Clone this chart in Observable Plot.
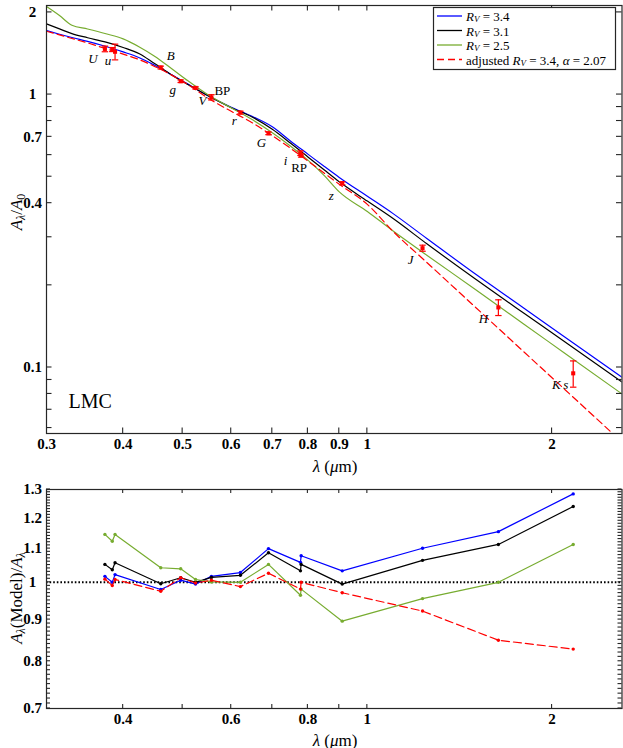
<!DOCTYPE html>
<html>
<head>
<meta charset="utf-8">
<script src="https://cdn.jsdelivr.net/npm/d3@7"></script>
<script src="https://cdn.jsdelivr.net/npm/@observablehq/plot@0.6"></script>
<style>
  html, body { margin: 0; padding: 0; background: #fff; }
  #wrap { position: relative; width: 623px; height: 748px; background: #fff; }
  #wrap svg { display: block; overflow: visible; }
</style>
</head>
<body>
<div id="wrap"></div>
<script>
// ---------------- data ----------------
const curveLambda = [0.30, 0.315, 0.33, 0.35, 0.375, 0.40, 0.425, 0.45, 0.48, 0.51, 0.55, 0.60, 0.65, 0.70, 0.75, 0.80, 0.85, 0.90, 1.00, 1.10, 1.25, 1.50, 1.80, 2.10, 2.60];
const curveRv34 = [1.716, 1.664, 1.618, 1.566, 1.500, 1.433, 1.365, 1.281, 1.181, 1.092, 0.990, 0.899, 0.831, 0.762, 0.675, 0.605, 0.546, 0.497, 0.424, 0.367, 0.297, 0.220, 0.165, 0.129, 0.0921];
const curveRv31 = [1.815, 1.741, 1.672, 1.615, 1.556, 1.488, 1.412, 1.299, 1.180, 1.088, 0.990, 0.895, 0.826, 0.746, 0.663, 0.591, 0.530, 0.479, 0.407, 0.352, 0.284, 0.211, 0.158, 0.124, 0.0884];
const curveRv25 = [2.100, 1.947, 1.795, 1.739, 1.670, 1.600, 1.495, 1.383, 1.244, 1.123, 0.998, 0.894, 0.808, 0.725, 0.647, 0.575, 0.506, 0.440, 0.373, 0.317, 0.258, 0.193, 0.144, 0.1126, 0.080];
const curveAdj  = [1.706, 1.654, 1.605, 1.546, 1.472, 1.407, 1.342, 1.268, 1.178, 1.088, 0.970, 0.868, 0.787, 0.707, 0.635, 0.571, 0.516, 0.469, 0.396, 0.316, 0.2426, 0.1663, 0.114, 0.0829, 0.0533];

const bandLambda = [0.3735, 0.384, 0.388, 0.4606, 0.4964, 0.5248, 0.557, 0.621, 0.69, 0.778, 0.780, 0.910, 1.230, 1.635, 2.165];
const obsRatio   = [1.470, 1.462, 1.435, 1.256, 1.119, 1.058, 0.977, 0.859, 0.721, 0.610, 0.598, 0.473, 0.2736, 0.166, 0.0952];
const obsError   = [0.035, 0.025, 0.095, 0.015, 0.012, 0.010, 0.022, 0.010, 0.008, 0.012, 0.008, 0.006, 0.007, 0.011, 0.0105];

const resRv34 = [1.017, 1.000, 1.022, 0.980, 1.006, 0.995, 1.017, 1.028, 1.100, 1.058, 1.078, 1.033, 1.101, 1.154, 1.284];
const resRv31 = [1.052, 1.036, 1.057, 0.996, 1.013, 1.000, 1.014, 1.020, 1.087, 1.033, 1.052, 0.995, 1.064, 1.113, 1.239];
const resRv25 = [1.145, 1.123, 1.145, 1.042, 1.039, 1.008, 1.001, 1.000, 1.052, 0.964, 0.981, 0.896, 0.955, 1.000, 1.113];
const resAdj  = [1.009, 0.991, 1.008, 0.975, 1.013, 0.998, 1.006, 0.988, 1.026, 0.981, 1.000, 0.971, 0.922, 0.849, 0.828];

const bandLabels     = ["U", "u", "B", "g", "V", "BP", "r", "G", "i", "RP", "z", "J", "H", "K\u2009s"];
const bandLabelIndex = [0, 2, 3, 4, 6, 6, 7, 8, 9, 10, 11, 12, 13, 14];
const bandLabelItalic = [true, true, true, true, true, false, true, true, true, false, true, true, true, true];

const xTicksTop = [0.3, 0.4, 0.5, 0.6, 0.7, 0.8, 0.9, 1, 2];
const xTicksBottom = [0.4, 0.6, 0.8, 1, 2];
const xTickMarks = [0.4, 0.5, 0.6, 0.7, 0.8, 0.9, 1, 2];
const yTicksTop = [0.1, 0.4, 0.7, 1, 2];
const yTickMarksTop = [0.06, 0.07, 0.08, 0.09, 0.1, 0.2, 0.3, 0.4, 0.5, 0.6, 0.7, 0.8, 0.9, 1, 2];
const yTicksBottom = [0.7, 0.8, 0.9, 1, 1.1, 1.2, 1.3];
const yTickMarksBottom = d3.range(70, 131).map(d => d / 100);

const legendLabels = ["3.4", "3.1", "2.5"];

// ---------------- layout / style ----------------
const W = 623;
const SERIF = "'Liberation Serif', 'Times New Roman', 'DejaVu Serif', serif";
const BLUE = "#0000ff", BLACK = "#000000", GREEN = "#77ac30", RED = "#ff0000", AXIS = "#262626";
const labelOffsets = [[-12, 10], [-7, 9], [10, -12], [-8, 9], [-9, 4], [11, -6], [-6, 8], [-7, 9], [-15, 8], [-2, 12], [-11, 13], [-12, 12], [-15, 11], [-13, 12]];
const xDomain = [0.3, 2.6];
const yDomainTop = [0.0573, 2.12];
const yDomainBottom = [0.7, 1.3];

const capSymbol = {
  draw(context, size) {
    const w = Math.sqrt(size / Math.PI);
    context.moveTo(-w, 0);
    context.lineTo(w, 0);
  }
};

const curveRows = vals => curveLambda.map((l, i) => ({l, v: vals[i]}));
const resRows = vals => bandLambda.map((l, i) => ({l, v: vals[i]}));
const obsRows = bandLambda.map((l, i) => ({l, v: obsRatio[i], e: obsError[i]}));

function tickLabels(xs, ys) {
  const o = {fontWeight: "bold", fontSize: 15, fill: "#000"};
  return [
    Plot.text(xs, {x: d => d, frameAnchor: "bottom", dy: 15, text: d => String(d), textAnchor: "middle", ...o}),
    Plot.text(ys, {y: d => d, frameAnchor: "left", dx: -14, text: d => String(d), textAnchor: "middle", ...o})
  ];
}

// inward tick marks, positioned with the plot's own scales
function drawTicks(svg, xs, ys, len, m) {
  const sx = svg.scale("x"), sy = svg.scale("y");
  const left = m.left, right = W - m.right, topY = m.top, bottomY = m.height - m.bottom;
  const g = d3.select(svg).append("g")
    .attr("stroke", AXIS).attr("stroke-width", 1.1).attr("fill", "none");
  xs.forEach(v => {
    const X = sx.apply(v);
    g.append("line").attr("x1", X).attr("x2", X).attr("y1", bottomY).attr("y2", bottomY - len);
    g.append("line").attr("x1", X).attr("x2", X).attr("y1", topY).attr("y2", topY + len);
  });
  ys.forEach(v => {
    const Y = sy.apply(v);
    g.append("line").attr("y1", Y).attr("y2", Y).attr("x1", left).attr("x2", left + len);
    g.append("line").attr("y1", Y).attr("y2", Y).attr("x1", right).attr("x2", right - len);
  });
}

function richText(svg, x, y, parts, size, rotate = 0) {
  const t = d3.select(svg).append("text")
    .attr("transform", `translate(${x},${y}) rotate(${rotate})`)
    .attr("text-anchor", "middle")
    .attr("font-family", SERIF)
    .attr("font-size", size)
    .attr("fill", "#000")
    .attr("dominant-baseline", "central");
  let shift = 0;
  parts.forEach(p => {
    const ts = t.append("tspan").text(p.t)
      .attr("font-style", p.i ? "italic" : "normal")
      .attr("font-size", p.sub ? size * 0.7 : size);
    const target = p.sub ? size * 0.3 : 0;
    if (target !== shift) { ts.attr("dy", target - shift); shift = target; }
  });
  return t;
}

// ---------------- top panel ----------------
const tM = {height: 476, top: 5, bottom: 43, left: 46, right: 1.5};

const labelMarks = bandLabels.map((name, k) => {
  const i = bandLabelIndex[k];
  return Plot.text([{l: bandLambda[i], v: obsRatio[i], name}], {
    x: "l", y: "v", text: "name",
    dx: labelOffsets[k][0], dy: labelOffsets[k][1],
    fontStyle: bandLabelItalic[k] ? "italic" : "normal",
    fontSize: 13, fill: "#000"
  });
});

const topPlot = Plot.plot({
  width: W, height: tM.height,
  marginTop: tM.top, marginBottom: tM.bottom, marginLeft: tM.left, marginRight: tM.right,
  style: {fontFamily: SERIF, background: "#fff", color: "#000"},
  x: {type: "log", domain: xDomain, axis: null},
  y: {type: "log", domain: yDomainTop, axis: null},
  marks: [
    Plot.line(curveRows(curveRv34), {x: "l", y: "v", stroke: BLUE, strokeWidth: 1.2, curve: "monotone-x", clip: true}),
    Plot.line(curveRows(curveRv31), {x: "l", y: "v", stroke: BLACK, strokeWidth: 1.2, curve: "monotone-x", clip: true}),
    Plot.line(curveRows(curveRv25), {x: "l", y: "v", stroke: GREEN, strokeWidth: 1.2, curve: "monotone-x", clip: true}),
    Plot.line(curveRows(curveAdj), {x: "l", y: "v", stroke: RED, strokeWidth: 1.2, strokeDasharray: "7,4", curve: "monotone-x", clip: true}),
    Plot.ruleX(obsRows, {x: "l", y1: d => d.v - d.e, y2: d => d.v + d.e, stroke: RED, strokeWidth: 1.2}),
    Plot.dot(obsRows, {x: "l", y: d => d.v - d.e, symbol: capSymbol, r: 3.2, stroke: RED, strokeWidth: 1.2}),
    Plot.dot(obsRows, {x: "l", y: d => d.v + d.e, symbol: capSymbol, r: 3.2, stroke: RED, strokeWidth: 1.2}),
    Plot.dot(obsRows, {x: "l", y: "v", symbol: "square", r: 2.3, fill: RED, stroke: null}),
    ...labelMarks,
    ...tickLabels(xTicksTop, yTicksTop),
    Plot.frame({stroke: AXIS, strokeWidth: 1.2}),
    Plot.text(["LMC"], {frameAnchor: "bottom-left", dx: 22, dy: -26, textAnchor: "start", fontSize: 20, fill: "#000"})
  ]
});

// ---------------- bottom panel ----------------
const bM = {height: 272, top: 13, bottom: 40, left: 46, right: 1.5};

const bottomPlot = Plot.plot({
  width: W, height: bM.height,
  marginTop: bM.top, marginBottom: bM.bottom, marginLeft: bM.left, marginRight: bM.right,
  style: {fontFamily: SERIF, background: "#fff", color: "#000"},
  x: {type: "log", domain: xDomain, axis: null},
  y: {type: "log", domain: yDomainBottom, axis: null},
  marks: [
    Plot.ruleY([1], {stroke: "#000", strokeWidth: 2, strokeDasharray: "1.6,2"}),
    Plot.line(resRows(resRv34), {x: "l", y: "v", stroke: BLUE, strokeWidth: 1.2}),
    Plot.dot(resRows(resRv34), {x: "l", y: "v", r: 1.7, fill: BLUE, stroke: null}),
    Plot.line(resRows(resRv31), {x: "l", y: "v", stroke: BLACK, strokeWidth: 1.2}),
    Plot.dot(resRows(resRv31), {x: "l", y: "v", r: 1.7, fill: BLACK, stroke: null}),
    Plot.line(resRows(resRv25), {x: "l", y: "v", stroke: GREEN, strokeWidth: 1.2}),
    Plot.dot(resRows(resRv25), {x: "l", y: "v", r: 1.7, fill: GREEN, stroke: null}),
    Plot.line(resRows(resAdj), {x: "l", y: "v", stroke: RED, strokeWidth: 1.2, strokeDasharray: "8,4"}),
    Plot.dot(resRows(resAdj), {x: "l", y: "v", r: 1.7, fill: RED, stroke: null}),
    ...tickLabels(xTicksBottom, yTicksBottom),
    Plot.frame({stroke: AXIS, strokeWidth: 1.2})
  ]
});

const wrap = document.getElementById("wrap");
wrap.appendChild(topPlot);
wrap.appendChild(bottomPlot);

drawTicks(topPlot, xTickMarks, yTickMarksTop, 5.5, tM);
drawTicks(bottomPlot, xTickMarks, yTickMarksBottom, 4, bM);

// axis titles
const lamUnit = [{t: "λ", i: true}, {t: " (", i: false}, {t: "μ", i: true}, {t: "m)", i: false}];
richText(topPlot, 335, 466, lamUnit, 17);
richText(bottomPlot, 335, 264, lamUnit, 17);
richText(topPlot, 16, 212, [{t: "A", i: true}, {t: "λ", i: true, sub: true}, {t: "/", i: false}, {t: "A", i: true}, {t: "0", i: false, sub: true}], 17, -90);
richText(bottomPlot, 16, 122, [{t: "A", i: true}, {t: "λ", i: true, sub: true}, {t: "(Model)/", i: false}, {t: "A", i: true}, {t: "λ", i: true, sub: true}], 17, -90);

// legend
(function legend() {
  const g = d3.select(topPlot).append("g").attr("font-family", SERIF).attr("font-size", 13).attr("text-anchor", "start");
  g.append("rect").attr("x", 433.5).attr("y", 7.5).attr("width", 182).attr("height", 62)
    .attr("fill", "#fff").attr("stroke", AXIS).attr("stroke-width", 1.2);
  const rows = [
    {c: BLUE, dash: null}, {c: BLACK, dash: null}, {c: GREEN, dash: null}, {c: RED, dash: "7,4"}
  ];
  const ys = [16, 30.5, 45, 59.5];
  rows.forEach((r, k) => {
    g.append("line").attr("x1", 437).attr("x2", 462).attr("y1", ys[k]).attr("y2", ys[k])
      .attr("stroke", r.c).attr("stroke-width", 1.3).attr("stroke-dasharray", r.dash);
    const t = g.append("text").attr("x", 466).attr("y", ys[k]).attr("dominant-baseline", "central")
      .attr("text-anchor", "start").attr("fill", "#000");
    if (k === 3) t.append("tspan").text("adjusted ");
    t.append("tspan").text("R").attr("font-style", "italic");
    t.append("tspan").text("V").attr("font-style", "italic").attr("font-size", 9).attr("dy", 3);
    t.append("tspan").text(" = " + (k < 3 ? legendLabels[k] : "3.4") + (k === 3 ? ", " : "")).attr("dy", -3);
    if (k === 3) {
      t.append("tspan").text("α").attr("font-style", "italic");
      t.append("tspan").text(" = 2.07");
    }
  });
})();
</script>
</body>
</html>
